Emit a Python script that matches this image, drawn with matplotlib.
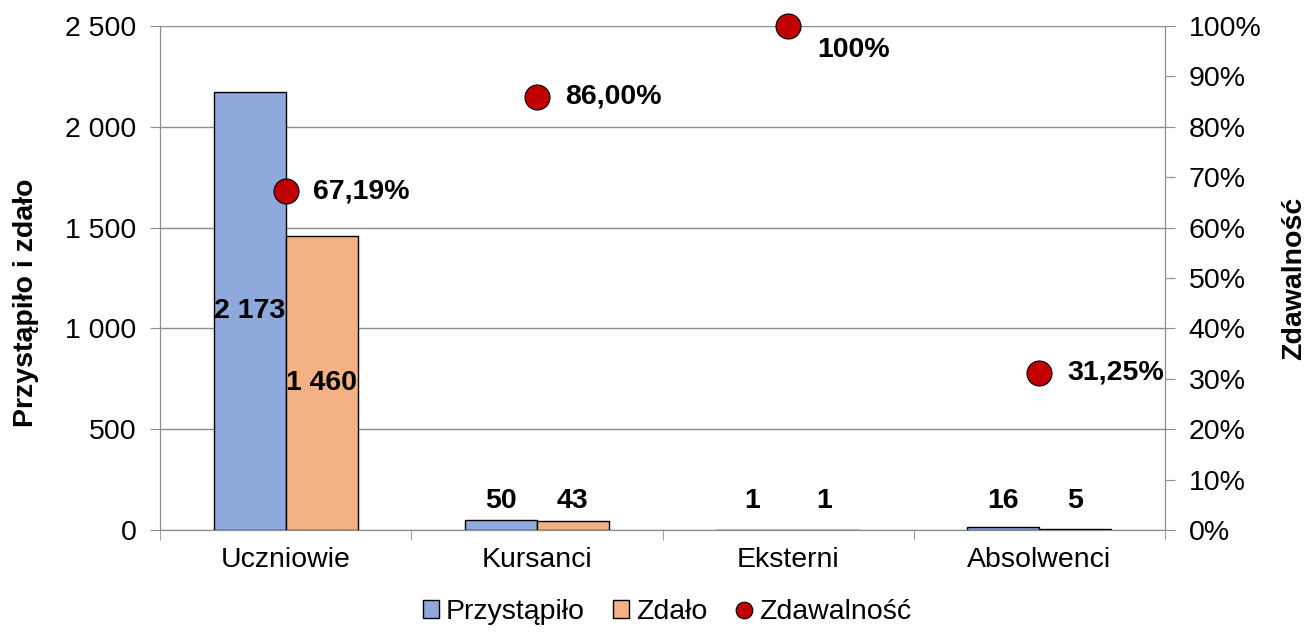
import matplotlib
matplotlib.use("Agg")
import matplotlib.pyplot as plt
from matplotlib.lines import Line2D
from matplotlib.patches import Patch
import numpy as np

plt.rcParams['font.family'] = ['Liberation Sans', 'DejaVu Sans']

categories = ["Uczniowie", "Kursanci", "Eksterni", "Absolwenci"]
przystapilo = [2173, 50, 1, 16]
zdalo = [1460, 43, 1, 5]
zdawalnosc = [67.19, 86.00, 100.0, 31.25]
pct_labels = ["67,19%", "86,00%", "100%", "31,25%"]
left_ticks = [0, 500, 1000, 1500, 2000, 2500]
left_tick_labels = ["0", "500", "1 000", "1 500", "2 000", "2 500"]
right_ticks = list(range(0, 101, 10))

def fmt(v):
    return f"{v:,}".replace(",", " ")

blue = "#8EA9DB"
orange = "#F4B183"
red = "#C00000"
grid = "#8C8C8C"
FS = 20.5

fig = plt.figure(figsize=(13.05, 6.33), dpi=100)
ax = fig.add_axes([160/1305, 1-530/633, (1165-160)/1305, (530-26)/633])
ax2 = ax.twinx()

x = np.arange(len(categories))
w = 0.287
ax.bar(x - w/2, przystapilo, w, color=blue, edgecolor="black", linewidth=1, zorder=3)
ax.bar(x + w/2, zdalo, w, color=orange, edgecolor="black", linewidth=1, zorder=3)

ax.set_xlim(-0.5, len(categories) - 0.5)
ax.set_ylim(0, 2500)
ax.set_yticks(left_ticks)
ax.set_yticklabels(left_tick_labels)
ax.yaxis.grid(True, color=grid, linewidth=1)
ax.set_axisbelow(True)
ax.set_xticks(x)
ax.set_xticklabels(categories)
ax.set_xticks(np.arange(-0.5, len(categories)), minor=True)
ax.tick_params(axis='x', which='major', length=0, pad=12, labelsize=FS)
ax.tick_params(axis='x', which='minor', length=7, color=grid, direction='out')
ax.tick_params(axis='y', length=7, color=grid, labelsize=FS, pad=10)
for s in ['top']:
    ax.spines[s].set_visible(False)
    ax2.spines[s].set_visible(False)
for s in ['left', 'bottom', 'right']:
    ax.spines[s].set_color(grid)
    ax2.spines[s].set_color(grid)
ax.set_ylabel("Przystąpiło i zdało", fontsize=FS, fontweight='bold', labelpad=19)
ax.yaxis.label.set_y(0.45)

ax2.set_ylim(0, 100)
ax2.set_yticks(right_ticks)
ax2.set_yticklabels([f"{t}%" for t in right_ticks])
ax2.tick_params(axis='y', length=7, color=grid, labelsize=FS, pad=10)
ax2.set_ylabel("Zdawalność", fontsize=FS, fontweight='bold', labelpad=14)

# bar labels
for i in range(len(categories)):
    for xi, v in ((x[i] - w/2, przystapilo[i]), (x[i] + w/2, zdalo[i])):
        if v > 500:
            ax.text(xi, v/2, fmt(v), ha='center', va='center', fontsize=FS,
                    fontweight='bold', zorder=5)
        else:
            ax.annotate(fmt(v), (xi, 0), xytext=(0, 21), textcoords='offset points',
                        ha='center', va='center', fontsize=FS, fontweight='bold', zorder=5)

ax2.plot(x, zdawalnosc, linestyle='none', marker='o', markersize=18,
         markerfacecolor=red, markeredgecolor='black', markeredgewidth=0.8,
         zorder=6, clip_on=False)
for i in range(len(categories)):
    if zdawalnosc[i] >= 99:
        ax2.annotate(pct_labels[i], (x[i], zdawalnosc[i]), xytext=(21, -17),
                     textcoords='offset points', ha='left', va='center',
                     fontsize=FS, fontweight='bold', zorder=7)
    else:
        ax2.annotate(pct_labels[i], (x[i], zdawalnosc[i]), xytext=(20, 0),
                     textcoords='offset points', ha='left', va='center',
                     fontsize=FS, fontweight='bold', zorder=7)

handles = [Patch(facecolor=blue, edgecolor='black', linewidth=1),
           Patch(facecolor=orange, edgecolor='black', linewidth=1),
           Line2D([], [], linestyle='none', marker='o', markersize=12,
                  markerfacecolor=red, markeredgecolor='black', markeredgewidth=0.8)]
fig.legend(handles, ["Przystąpiło", "Zdało", "Zdawalność"], loc='center',
           bbox_to_anchor=(667/1305, 1-612/633), ncol=3, frameon=False,
           fontsize=FS, handlelength=0.55, handleheight=0.55, handletextpad=0.25,
           columnspacing=1.0, borderpad=0)

fig.savefig("out.png", dpi=100)
